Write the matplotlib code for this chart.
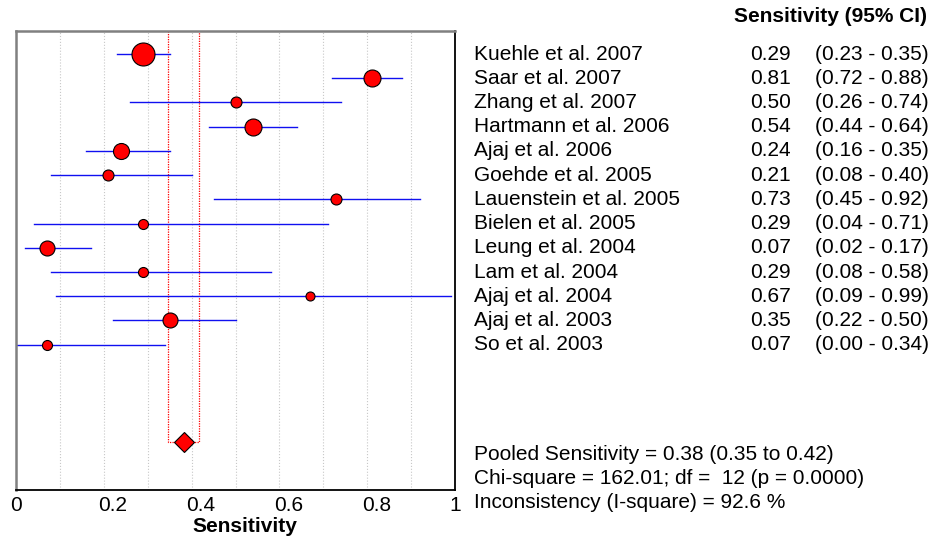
import matplotlib
matplotlib.use('Agg')
import matplotlib.pyplot as plt
import matplotlib.transforms as mtransforms

plt.rcParams['font.family'] = ['Liberation Sans', 'DejaVu Sans']

# study data
studies = ['Kuehle et al. 2007', 'Saar et al. 2007', 'Zhang et al. 2007',
           'Hartmann et al. 2006', 'Ajaj et al. 2006', 'Goehde et al. 2005',
           'Lauenstein et al. 2005', 'Bielen et al. 2005', 'Leung et al. 2004',
           'Lam et al. 2004', 'Ajaj et al. 2004', 'Ajaj et al. 2003',
           'So et al. 2003']
sens = [0.29, 0.81, 0.50, 0.54, 0.24, 0.21, 0.73, 0.29, 0.07, 0.29, 0.67, 0.35, 0.07]
ci_lo = [0.23, 0.72, 0.26, 0.44, 0.16, 0.08, 0.45, 0.04, 0.02, 0.08, 0.09, 0.22, 0.00]
ci_hi = [0.35, 0.88, 0.74, 0.64, 0.35, 0.40, 0.92, 0.71, 0.17, 0.58, 0.99, 0.50, 0.34]
# relative weight of each study (marker diameter, px)
weights = [23, 17, 11, 17, 16, 11, 11, 10, 15, 10, 9, 15, 10]

pooled = 0.383
pooled_lo = 0.346
pooled_hi = 0.417
chi2 = 162.01
df = 12
pval = 0.0
isq = 92.6

W, H = 934, 540
FS = 15
fig = plt.figure(figsize=(W / 100, H / 100), dpi=100)
ax = fig.add_axes([16 / W, 1 - 490 / H, (455 - 16) / W, (490 - 31) / H])

rows = list(range(len(studies)))
pooled_row = 16
ytop = -0.95
ax.set_ylim(18.0, ytop)
ax.set_xlim(0, 1)

for x in [0.1, 0.2, 0.3, 0.4, 0.5, 0.6, 0.7, 0.8, 0.9]:
    ax.axvline(x, color='#c8c8c8', lw=0.8, ls=':', zorder=0)

ax.plot([pooled_lo, pooled_lo, pooled_hi, pooled_hi],
        [ytop, pooled_row, pooled_row, ytop], color='red', lw=0.9,
        ls=(0, (1, 1)), zorder=1)

for i in rows:
    ax.plot([ci_lo[i], ci_hi[i]], [i, i], color='#1010f0', lw=1.0, zorder=2)
for i in rows:
    ax.plot(sens[i], i, 'o', ms=weights[i] * 0.72, mfc='red', mec='black',
            mew=0.8, zorder=3)
ax.plot(pooled, pooled_row, 'D', ms=10, mfc='red', mec='black', mew=0.8, zorder=3)

ax.set_yticks([])
ax.set_xticks([0, 0.2, 0.4, 0.6, 0.8, 1])
ax.set_xticklabels(['0', '0.2', '0.4', '0.6', '0.8', '1'], fontsize=FS)
ax.tick_params(axis='x', length=0, pad=4)
# middle tick labels sit a little right of their gridline in the original
for lab in ax.get_xticklabels()[1:-1]:
    lab.set_transform(lab.get_transform() +
                      mtransforms.ScaledTranslation(9 / 100, 0, fig.dpi_scale_trans))
ax.set_xlabel('Sensitivity', fontsize=FS, fontweight='bold', labelpad=0)
ax.xaxis.set_label_coords(245 / W, 1 - 527 / H, transform=fig.transFigure)
ax.xaxis.label.set_va('center')

ax.spines['top'].set_color('#808080')
ax.spines['left'].set_color('#808080')
ax.spines['top'].set_linewidth(1.8)
ax.spines['left'].set_linewidth(1.8)
ax.spines['right'].set_color('black')
ax.spines['bottom'].set_color('black')
ax.spines['right'].set_linewidth(1.3)
ax.spines['bottom'].set_linewidth(1.3)

# right-hand table
tr = mtransforms.blended_transform_factory(fig.transFigure, ax.transData)
for i in rows:
    fig.text(474 / W, i, studies[i], transform=tr, fontsize=FS, va='center', ha='left')
    fig.text(791 / W, i, '%.2f' % sens[i], transform=tr, fontsize=FS, va='center', ha='right')
    fig.text(815 / W, i, '(%.2f - %.2f)' % (ci_lo[i], ci_hi[i]), transform=tr,
             fontsize=FS, va='center', ha='left')

fig.text(927 / W, 1 - 17 / H, 'Sensitivity (95% CI)', fontsize=FS, fontweight='bold',
         ha='right', va='center')

fig.text(474 / W, 1 - 455 / H, 'Pooled Sensitivity = %.2f (%.2f to %.2f)' % (pooled, pooled_lo, pooled_hi),
         fontsize=FS, va='center')
fig.text(474 / W, 1 - 479 / H, 'Chi-square = %.2f; df =  %d (p = %.4f)' % (chi2, df, pval),
         fontsize=FS, va='center')
fig.text(474 / W, 1 - 503 / H, 'Inconsistency (I-square) = %.1f %%' % isq,
         fontsize=FS, va='center')

fig.savefig('out.png', dpi=100)
